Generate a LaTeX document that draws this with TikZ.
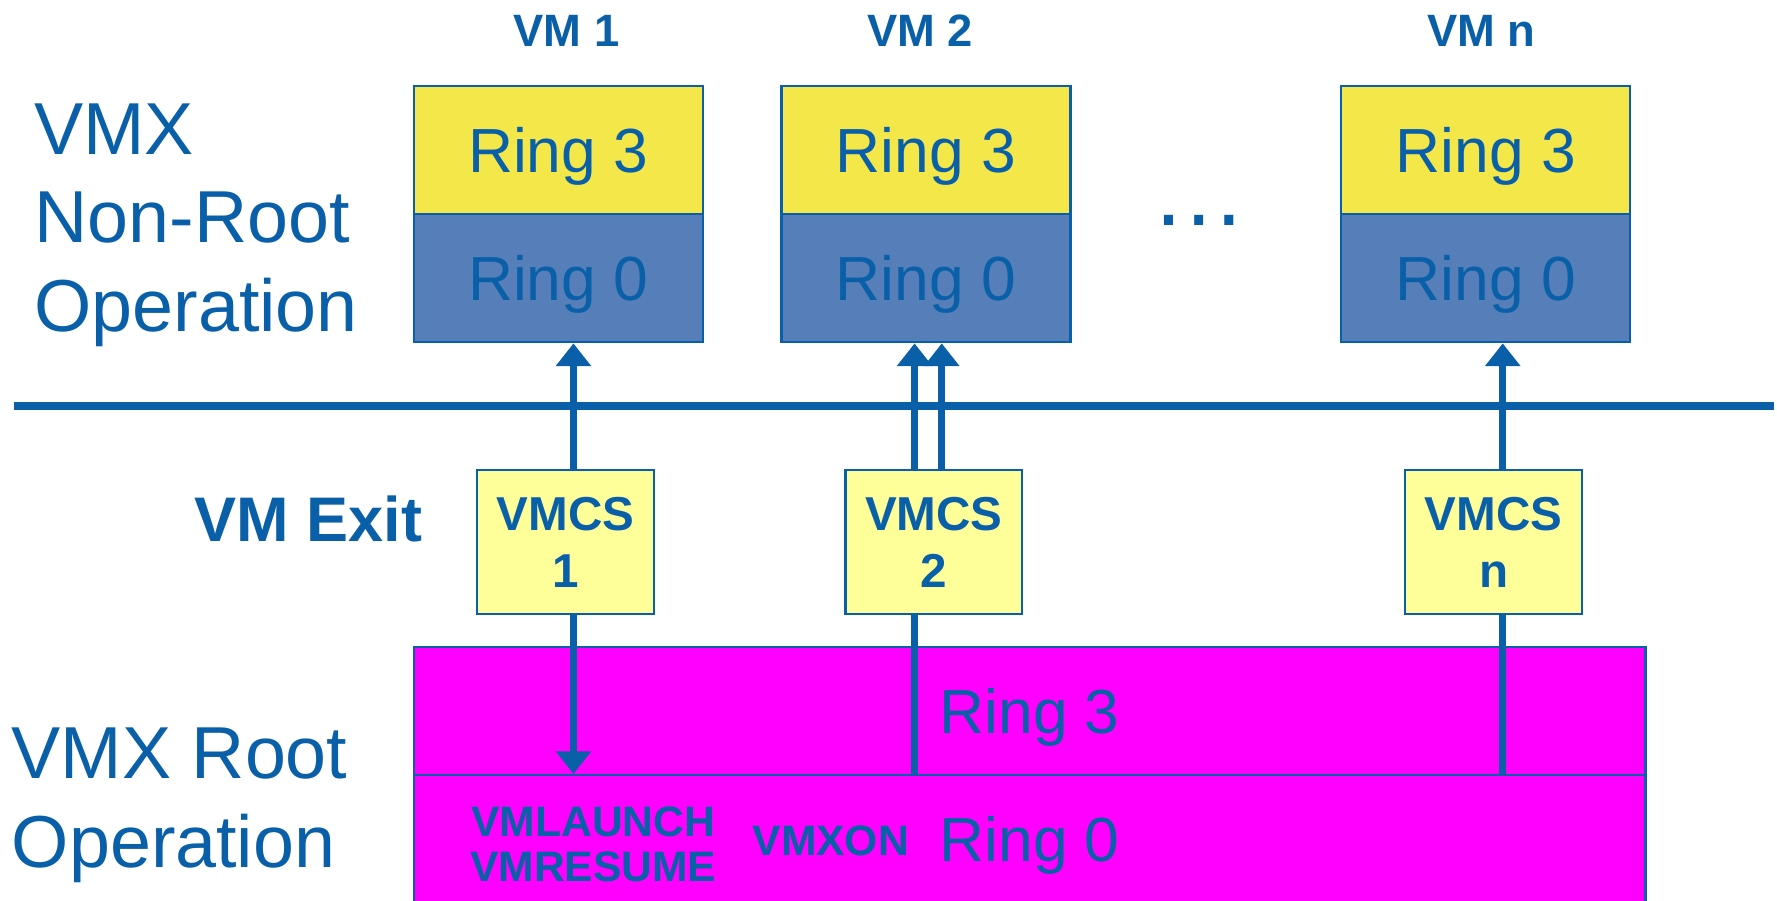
\documentclass[tikz,border=0pt]{standalone}
\usepackage{fontspec}
\setmainfont{Liberation Sans}
\usetikzlibrary{arrows.meta,calc}
\definecolor{tblue}{RGB}{10,96,168}
\definecolor{ryellow}{RGB}{243,231,74}
\definecolor{rblue}{RGB}{86,126,185}
\definecolor{lyellow}{RGB}{255,255,153}
\definecolor{rmag}{RGB}{255,0,255}
\tikzset{
  ringbox/.style={draw=tblue, line width=1pt, minimum width=127.5pt, minimum height=56.5pt,
    inner sep=0pt, text=tblue, font=\fontsize{27.5pt}{33pt}\selectfont, text height=19.7pt, text depth=0pt},
  r3/.style={ringbox, fill=ryellow},
  r0/.style={ringbox, fill=rblue},
  rootbox/.style={ringbox, fill=rmag, minimum width=543.5pt},
  vmcsbox/.style={draw=tblue, line width=1pt, fill=lyellow, minimum width=78pt, minimum height=63.5pt,
    inner sep=0pt, align=center, text=tblue, font=\bfseries\fontsize{21pt}{25.3pt}\selectfont},
  header/.style={text=tblue, inner sep=0pt, anchor=base, font=\bfseries\fontsize{20pt}{24pt}\selectfont},
  biglabel/.style={text=tblue, inner sep=0pt, anchor=north west, align=left, font=\fontsize{32.5pt}{39pt}\selectfont},
  instr/.style={text=tblue, inner sep=0pt, font=\bfseries\fontsize{18.8pt}{19.85pt}\selectfont},
  sepline/.style={draw=tblue, line width=3.5pt},
  arr/.style={draw=tblue, line width=3pt, -{Triangle[width=15pt,length=10pt]}},
  conn/.style={draw=tblue, line width=3pt},
}
\begin{document}
\begin{tikzpicture}[x=0.5pt,y=-0.5pt]
\useasboundingbox (0,0) rectangle (1568,795);
% VM headers
\node[header] (h1) at (500,41.2) {VM 1};
\node[header] (h2) at (812,41.2) {VM 2};
\node[header] (hn) at (1307,41.2) {VM n};
% VM boxes
\node[r3] (vm1r3) at (492.5,132.5) {Ring 3};
\node[r0] (vm1r0) at (492.5,245.5) {Ring 0};
\node[r3] (vm2r3) at (817,132.5) {Ring 3};
\node[r0] (vm2r0) at (817,245.5) {Ring 0};
\node[r3] (vmnr3) at (1311,132.5) {Ring 3};
\node[r0] (vmnr0) at (1311,245.5) {Ring 0};
\node[text=tblue, inner sep=0pt, anchor=base, font=\fontsize{42pt}{48pt}\selectfont] (dots) at (1058,199) {…};
% left labels
\node[biglabel] (nonroot) at (30,91) {VMX\\Non-Root\\Operation};
\node[biglabel] (root) at (10,642) {VMX Root\\Operation};
\node[text=tblue, inner sep=0pt, anchor=base, font=\bfseries\fontsize{27.8pt}{33pt}\selectfont] (exit) at (272,478) {VM Exit};
% separator
\coordinate (sepL) at (12,358);
\coordinate (sepR) at (1565,358);
\draw[sepline] (sepL) -- (sepR);
% VMCS boxes
\node[vmcsbox] (vmcs1) at (499,478.5) {VMCS\\1};
\node[vmcsbox] (vmcs2) at (824,478.5) {VMCS\\2};
\node[vmcsbox] (vmcsn) at (1318,478.5) {VMCS\\n};
% root boxes
\node[rootbox] (root3) at (908.5,627.5) {Ring 3};
\node[rootbox] (root0) at (908.5,740.5) {Ring 0};
\node[instr, anchor=north, align=center] (launch) at (523.5,711.8) {VMLAUNCH\\VMRESUME};
\node[instr, anchor=base] (vmxon) at (733,754.5) {VMXON};
% up arrows
\draw[arr] ([xshift=3.5pt]vmcs1.north) -- ([xshift=3.5pt]vmcs1.north |- vm1r0.south);
\draw[arr] ([xshift=-8.5pt]vmcs2.north) -- ([xshift=-8.5pt]vmcs2.north |- vm2r0.south);
\draw[arr] ([xshift=3.5pt]vmcs2.north) -- ([xshift=3.5pt]vmcs2.north |- vm2r0.south);
\draw[arr] ([xshift=4pt]vmcsn.north) -- ([xshift=4pt]vmcsn.north |- vmnr0.south);
% down connectors
\draw[arr] ([xshift=3.5pt]vmcs1.south) -- ([xshift=3.5pt]vmcs1.south |- root0.north);
\draw[conn] ([xshift=-8.5pt]vmcs2.south) -- ([xshift=-8.5pt]vmcs2.south |- root0.north);
\draw[conn] ([xshift=4pt]vmcsn.south) -- ([xshift=4pt]vmcsn.south |- root0.north);
\end{tikzpicture}
\end{document}
